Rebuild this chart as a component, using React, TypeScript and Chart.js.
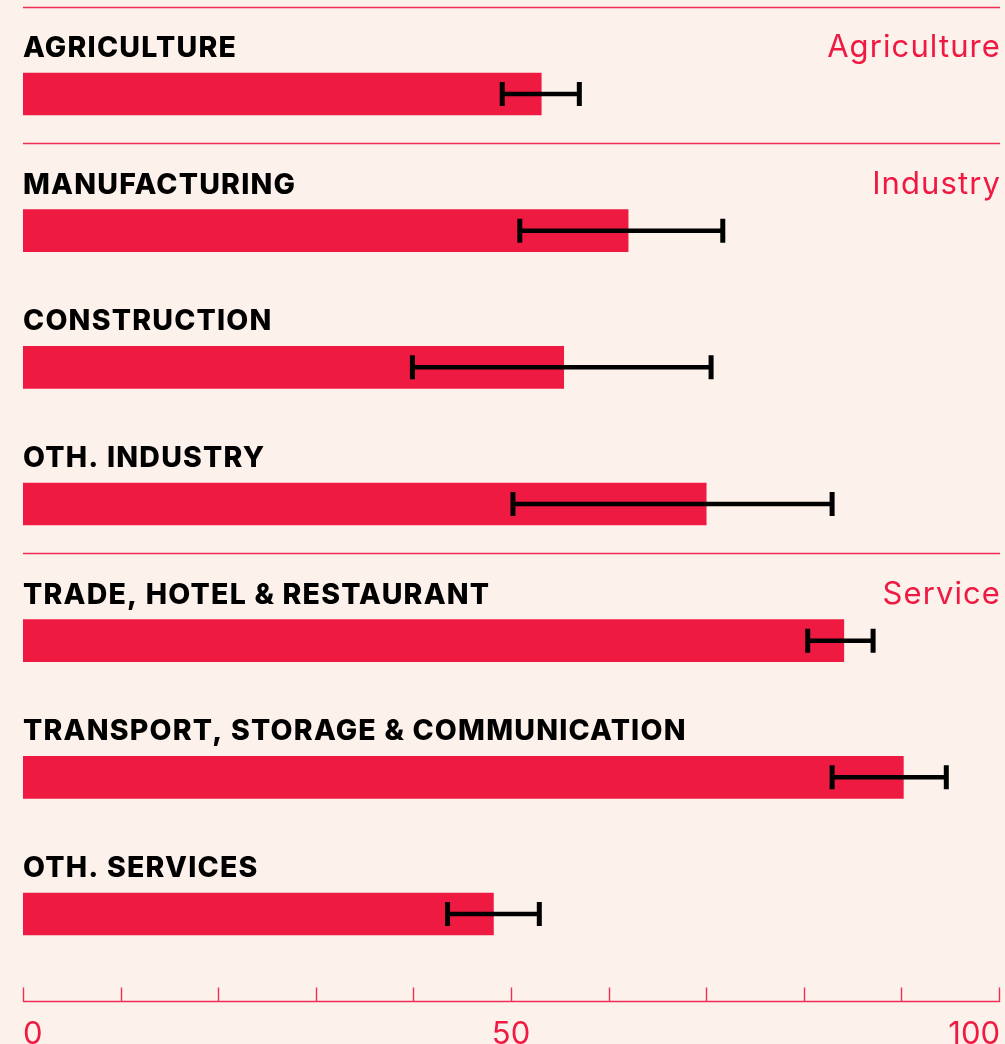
import React, { useEffect, useRef } from "react";
import { Chart, registerables } from "chart.js";

Chart.register(...registerables);

const categories = [
  "AGRICULTURE",
  "MANUFACTURING",
  "CONSTRUCTION",
  "OTH. INDUSTRY",
  "TRADE, HOTEL & RESTAURANT",
  "TRANSPORT, STORAGE & COMMUNICATION",
  "OTH. SERVICES",
];
const groups = ["Agriculture", "Industry", "Industry", "Industry", "Service", "Service", "Service"];
const values = [53.1, 62.0, 55.4, 70.0, 84.1, 90.2, 48.2];
const errLow = [49.1, 50.9, 39.9, 50.2, 80.4, 82.9, 43.5];
const errHigh = [57.0, 71.7, 70.5, 82.9, 87.1, 94.6, 52.9];
const tickValues = [0, 10, 20, 30, 40, 50, 60, 70, 80, 90, 100];
const tickLabels: Record<number, string> = { 0: "0", 50: "50", 100: "100" };

const BG = "#FDF1EC";
const RED = "#EF1A42";
const LINE_RED = "#EF2F53";

const decorPlugin = {
  id: "decor",
  beforeDraw(chart: any) {
    const { ctx, width, height } = chart;
    ctx.save();
    ctx.fillStyle = BG;
    ctx.fillRect(0, 0, width, height);
    ctx.restore();
  },
  afterDatasetsDraw(chart: any) {
    const { ctx, chartArea } = chart;
    const x = chart.scales.x;
    const y = chart.scales.y;
    const band = y.getPixelForValue(1) - y.getPixelForValue(0);
    const barH = 42;
    const left = x.getPixelForValue(0);
    const right = x.getPixelForValue(100);
    ctx.save();

    for (let i = 0; i < categories.length; i++) {
      const cy = y.getPixelForValue(i);
      const barTop = cy - barH / 2;
      const baseline = barTop - 16;
      if (i === 0 || groups[i] !== groups[i - 1]) {
        const ly = Math.round(cy - band / 2 - 19) + 0.5;
        ctx.strokeStyle = LINE_RED;
        ctx.lineWidth = 1.4;
        ctx.beginPath();
        ctx.moveTo(left, ly);
        ctx.lineTo(right + 1, ly);
        ctx.stroke();
        ctx.fillStyle = RED;
        ctx.font = "400 31px Inter";
        (ctx as any).letterSpacing = "1.1px";
        ctx.textAlign = "right";
        ctx.textBaseline = "alphabetic";
        ctx.fillText(groups[i], right + 2, baseline);
      }
      ctx.fillStyle = "#000";
      ctx.font = "800 28.5px Inter";
      (ctx as any).letterSpacing = "1.2px";
      ctx.textAlign = "left";
      ctx.textBaseline = "alphabetic";
      ctx.fillText(categories[i], left, baseline);

      const x1 = x.getPixelForValue(errLow[i]);
      const x2 = x.getPixelForValue(errHigh[i]);
      ctx.strokeStyle = "#000";
      ctx.lineWidth = 4.5;
      ctx.lineCap = "butt";
      ctx.beginPath();
      ctx.moveTo(x1, cy);
      ctx.lineTo(x2, cy);
      ctx.stroke();
      ctx.lineWidth = 5;
      ctx.beginPath();
      ctx.moveTo(x1, cy - 12);
      ctx.lineTo(x1, cy + 12);
      ctx.moveTo(x2, cy - 12);
      ctx.lineTo(x2, cy + 12);
      ctx.stroke();
    }

    const axisY = Math.round(chartArea.bottom + 19) + 0.5;
    ctx.strokeStyle = LINE_RED;
    ctx.lineWidth = 1.4;
    ctx.beginPath();
    ctx.moveTo(left, axisY);
    ctx.lineTo(right + 1, axisY);
    for (const t of tickValues) {
      const tx = Math.round(x.getPixelForValue(t)) + 0.5;
      ctx.moveTo(tx, axisY - 14);
      ctx.lineTo(tx, axisY);
    }
    ctx.stroke();
    ctx.fillStyle = RED;
    ctx.font = "400 31px Inter";
    (ctx as any).letterSpacing = "0px";
    ctx.textBaseline = "alphabetic";
    for (const t of tickValues) {
      const lab = tickLabels[t];
      if (!lab) continue;
      const tx = x.getPixelForValue(t);
      ctx.textAlign = t === 0 ? "left" : t === 100 ? "right" : "center";
      ctx.fillText(lab, t === 100 ? tx + 1 : tx, axisY + 42);
    }
    ctx.restore();
  },
};

export default function App() {
  const ref = useRef<HTMLCanvasElement | null>(null);
  useEffect(() => {
    if (!ref.current) return;
    const chart = new Chart(ref.current, {
      type: "bar",
      data: {
        labels: categories,
        datasets: [
          {
            data: values,
            backgroundColor: RED,
            borderWidth: 0,
            barThickness: 42,
          },
        ],
      },
      options: {
        indexAxis: "y",
        responsive: false,
        animation: false,
        devicePixelRatio: 1,
        layout: { padding: { left: 23, right: 6, top: 25.7, bottom: 61.7 } },
        plugins: { legend: { display: false }, tooltip: { enabled: false } },
        scales: {
          x: { min: 0, max: 100, display: false },
          y: { display: false, offset: true },
        },
      },
      plugins: [decorPlugin],
    });
    return () => chart.destroy();
  }, []);
  return (
    <div style={{ position: "absolute", left: 0, top: 0, width: 1005, height: 1044, background: BG }}>
      <canvas ref={ref} width={1005} height={1044} style={{ display: "block", width: 1005, height: 1044 }} />
    </div>
  );
}
